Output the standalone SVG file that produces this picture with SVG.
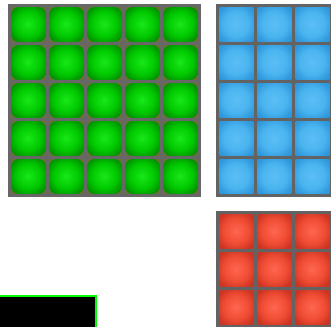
<svg xmlns="http://www.w3.org/2000/svg" width="331" height="327" viewBox="0 0 331 327">
<defs>
<radialGradient id="gG" cx="50%" cy="50%" r="60%">
<stop offset="0" stop-color="#18e818"/>
<stop offset="0.6" stop-color="#00c800"/>
<stop offset="1" stop-color="#009000"/>
</radialGradient>
<radialGradient id="gB" cx="50%" cy="50%" r="60%">
<stop offset="0" stop-color="#5cbef5"/>
<stop offset="0.6" stop-color="#4ab4f0"/>
<stop offset="1" stop-color="#2e98dc"/>
</radialGradient>
<radialGradient id="gR" cx="50%" cy="50%" r="60%">
<stop offset="0" stop-color="#ff6650"/>
<stop offset="0.6" stop-color="#f04c34"/>
<stop offset="1" stop-color="#cc3422"/>
</radialGradient>
<pattern id="pG" x="8" y="4" width="38" height="38" patternUnits="userSpaceOnUse">
<rect x="0" y="0" width="38" height="38" fill="#6e6e3a"/>
<rect x="0" y="0" width="38" height="3" fill="#676767"/>
<rect x="0" y="0" width="3" height="38" fill="#676767"/>
<rect x="3" y="3" width="35" height="35" rx="8" fill="url(#gG)"/>
</pattern>
<pattern id="pB" x="216" y="4" width="38" height="38" patternUnits="userSpaceOnUse">
<rect x="0" y="0" width="38" height="38" fill="#636363"/>
<rect x="3" y="3" width="35" height="35" rx="2" fill="url(#gB)"/>
</pattern>
<pattern id="pR" x="216" y="211" width="38" height="38" patternUnits="userSpaceOnUse">
<rect x="0" y="0" width="38" height="38" fill="#636363"/>
<rect x="3" y="3" width="35" height="35" rx="2" fill="url(#gR)"/>
</pattern>
</defs>
<rect width="331" height="327" fill="#ffffff"/>
<g id="green-grid">
<rect x="8" y="4" width="193" height="193" fill="url(#pG)"/>
<rect x="198" y="4" width="3" height="193" fill="#676767"/>
<rect x="8" y="194" width="193" height="3" fill="#676767"/>
</g>
<g id="blue-grid">
<rect x="216" y="4" width="118" height="193" fill="url(#pB)"/>
<rect x="216" y="194" width="118" height="3" fill="#636363"/>
</g>
<g id="red-grid">
<rect x="216" y="211" width="118" height="120" fill="url(#pR)"/>
</g>
<g id="black-box">
<rect x="-5" y="296" width="101" height="40" fill="#000000" stroke="#00ff00" stroke-width="2"/>
</g>
</svg>
